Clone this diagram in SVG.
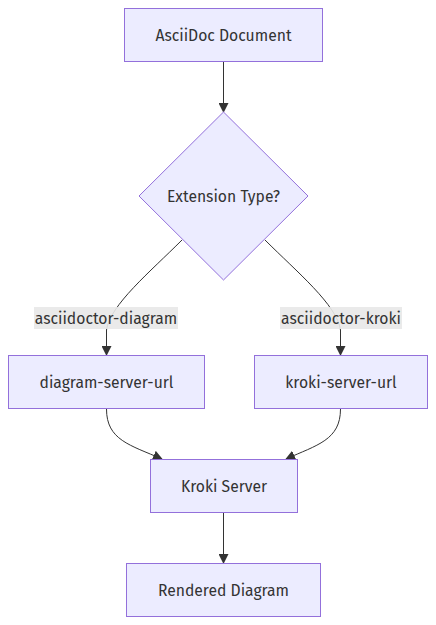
<svg xmlns="http://www.w3.org/2000/svg" width="436" height="625" viewBox="0 0 436 625">
<defs>
<style>
.node rect,.node polygon{fill:#ECECFF;stroke:#9370DB;stroke-width:1px}
.node text,.lbl text{font-family:"Fira Sans","Noto Sans","Open Sans",sans-serif;font-size:15.7px;fill:#333;text-anchor:middle;dominant-baseline:central}
.edge{fill:none;stroke:#333;stroke-width:1px}
.lbl rect{fill:#e8e8e8;opacity:0.9}
</style>
<marker id="arr" viewBox="0 0 10 10" refX="9" refY="5" markerUnits="userSpaceOnUse" markerWidth="10" markerHeight="10" orient="auto">
<path d="M0,0L10,5L0,10z" fill="#333"/>
</marker>
</defs>
<rect width="436" height="625" fill="#fff"/>
<g id="edges">
<path class="edge" d="M223.5,61L223.5,112" marker-end="url(#arr)"/>
<path class="edge" d="M182,240C150,272 110,305 106.5,330L106.5,355" marker-end="url(#arr)"/>
<path class="edge" d="M265,240C297,272 337,305 340.5,330L340.5,355" marker-end="url(#arr)"/>
<path class="edge" d="M106.5,409C106.5,440 130,445 162,459" marker-end="url(#arr)"/>
<path class="edge" d="M340.5,409C340.5,440 317,445 286,459" marker-end="url(#arr)"/>
<path class="edge" d="M223.5,512L223.5,563" marker-end="url(#arr)"/>
</g>
<g id="edge-labels">
<g class="lbl" id="lbl-diagram"><rect x="34" y="307" width="144" height="22"/><text x="106" y="318">asciidoctor-diagram</text></g>
<g class="lbl" id="lbl-kroki"><rect x="280" y="307" width="122" height="22"/><text x="341" y="318">asciidoctor-kroki</text></g>
</g>
<g class="node" id="n-doc"><rect x="124.5" y="8.5" width="198" height="53"/><text x="223.5" y="35">AsciiDoc Document</text></g>
<g class="node" id="n-type"><polygon points="223.5,112 308,196 223.5,280 139,196"/><text x="223.5" y="196">Extension Type?</text></g>
<g class="node" id="n-dsu"><rect x="8.5" y="355.5" width="196" height="53"/><text x="106.5" y="382">diagram-server-url</text></g>
<g class="node" id="n-ksu"><rect x="254.5" y="355.5" width="173" height="53"/><text x="341" y="382">kroki-server-url</text></g>
<g class="node" id="n-kroki"><rect x="150.5" y="459.5" width="147" height="53"/><text x="224" y="486">Kroki Server</text></g>
<g class="node" id="n-rendered"><rect x="126.5" y="563.5" width="194" height="53"/><text x="223.5" y="590">Rendered Diagram</text></g>
</svg>
